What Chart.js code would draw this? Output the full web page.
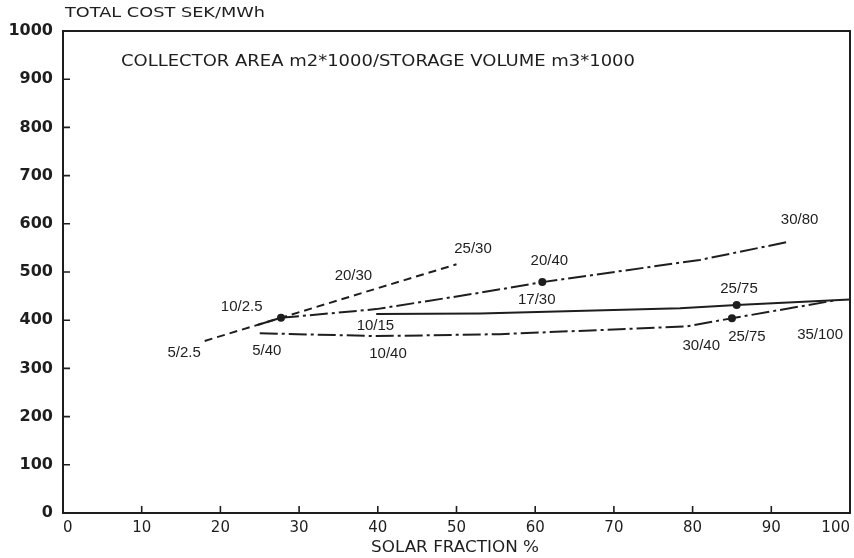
<!DOCTYPE html>
<html>
<head>
<meta charset="utf-8">
<script src="https://cdn.jsdelivr.net/npm/chart.js@4.4.1/dist/chart.umd.min.js"></script>
<style>
  html, body { margin: 0; padding: 0; background: #ffffff; }
  #wrap { width: 854px; height: 558px; }
</style>
</head>
<body>
<div id="wrap"><canvas id="c" width="854" height="558"></canvas></div>
<script>
// ---- data ----
const xTickValues = [0, 10, 20, 30, 40, 50, 60, 70, 80, 90, 100];
const yTickValues = [0, 100, 200, 300, 400, 500, 600, 700, 800, 900, 1000];

// dashed line 5/2.5 -> 10/2.5 -> 20/30 -> 25/30
const dashedX = [18.0, 27.7, 38.5, 50.0];
const dashedY = [357, 405, 459, 516];

// short solid lead-in to 10/2.5
const leadX = [24.7, 27.7];
const leadY = [390, 405];

// upper dash-dot line 10/2.5 -> 20/40 -> 30/80
const upperX = [27.7, 39.8, 53.0, 60.9, 80.9, 92.0];
const upperY = [405, 423, 457, 479, 525, 562];

// solid line 10/15 -> 17/30 -> 25/75 -> 35/100
const solidX = [39.8, 53.0, 78.4, 85.6, 100];
const solidY = [413, 414, 425, 431.5, 443];

// lower dash-dot line 5/40 -> 10/40 -> 30/40 -> 25/75 -> 35/100
const lowerX = [25.0, 39.8, 55.5, 79.2, 85.0, 97.0, 98.0];
const lowerY = [373, 367, 371, 387, 404, 438, 441];

// marked points
const dotX = [27.7, 60.9, 85.6, 85.0];
const dotY = [405, 479, 431.5, 404];

// point labels (text, x, y in data units)
const labelText = ["5/2.5", "10/2.5", "20/30", "25/30", "10/15", "5/40", "10/40",
                   "20/40", "17/30", "30/80", "25/75", "30/40", "25/75", "35/100"];
const labelX = [15.4, 22.7, 36.9, 52.1, 39.7, 25.9, 41.3, 61.8, 60.2, 93.6, 85.9, 81.1, 86.9, 96.2];
const labelY = [333, 427, 491, 547, 388, 337, 330, 523, 442, 608, 464, 347, 366, 369];

const yAxisTitle = "TOTAL COST SEK/MWh";
const xAxisTitle = "SOLAR FRACTION %";
const noteText = "COLLECTOR AREA m2*1000/STORAGE VOLUME m3*1000";

// ---- helpers ----
function pts(xs, ys) { return xs.map((x, i) => ({ x: x, y: ys[i] })); }
const INK = '#1e1e1e';

function lineSet(data, dash) {
  return {
    data: data, showLine: true, borderColor: INK, borderWidth: 2,
    borderDash: dash, pointRadius: 0, pointHoverRadius: 0, fill: false, tension: 0
  };
}

// draw text stretched horizontally to a given width, left edge at x
function drawFit(ctx, text, x, y, width) {
  const w = ctx.measureText(text).width;
  ctx.save();
  ctx.translate(x, y);
  ctx.scale(width / w, 1);
  ctx.textAlign = 'left';
  ctx.fillText(text, 0, 0);
  ctx.restore();
}

const decorPlugin = {
  id: 'decor',
  afterDatasetsDraw(chart) {
    const ctx = chart.ctx;
    const a = chart.chartArea;
    const xs = chart.scales.x, ys = chart.scales.y;
    ctx.save();
    // frame
    ctx.strokeStyle = INK;
    ctx.lineWidth = 2;
    ctx.strokeRect(a.left, a.top, a.right - a.left, a.bottom - a.top);
    // inward ticks
    ctx.lineWidth = 1.6;
    ctx.beginPath();
    xTickValues.forEach(v => {
      if (v === 0 || v === 100) return;
      const px = xs.getPixelForValue(v);
      ctx.moveTo(px, a.bottom);
      ctx.lineTo(px, a.bottom - 7);
    });
    yTickValues.forEach(v => {
      if (v === 0 || v === 1000) return;
      const py = ys.getPixelForValue(v);
      ctx.moveTo(a.left, py);
      ctx.lineTo(a.left + 7, py);
    });
    ctx.stroke();

    // point labels
    ctx.fillStyle = INK;
    ctx.font = '15px "Liberation Sans"';
    ctx.textAlign = 'center';
    ctx.textBaseline = 'middle';
    labelText.forEach((t, i) => {
      ctx.fillText(t, xs.getPixelForValue(labelX[i]), ys.getPixelForValue(labelY[i]));
    });

    // note
    ctx.font = '15px "DejaVu Sans"';
    drawFit(ctx, noteText, 121, 62, 514);

    // axis titles
    ctx.font = '14px "DejaVu Sans"';
    drawFit(ctx, yAxisTitle, 65, 13, 200);
    ctx.font = '15px "DejaVu Sans"';
    drawFit(ctx, xAxisTitle, 371, 548, 168);
    ctx.restore();
  }
};

new Chart(document.getElementById('c'), {
  type: 'scatter',
  data: {
    datasets: [
      lineSet(pts(dashedX, dashedY), [8, 5]),
      lineSet(pts(leadX, leadY), []),
      lineSet(pts(upperX, upperY), [18, 4, 3, 4]),
      lineSet(pts(solidX, solidY), []),
      lineSet(pts(lowerX, lowerY), [18, 4, 3, 4]),
      {
        data: pts(dotX, dotY), showLine: false, pointRadius: 4,
        pointBackgroundColor: INK, pointBorderColor: INK, pointBorderWidth: 0
      }
    ]
  },
  options: {
    responsive: false,
    animation: false,
    devicePixelRatio: 1,
    layout: { padding: { top: 31, right: 4, left: 0, bottom: 0 } },
    plugins: { legend: { display: false }, tooltip: { enabled: false }, title: { display: false } },
    scales: {
      x: {
        type: 'linear', min: 0, max: 100,
        afterFit(s) { s.height = 45; s.paddingLeft = 0; s.paddingRight = 0; },
        afterBuildTicks(s) { s.ticks = xTickValues.map(v => ({ value: v })); },
        grid: { display: false, drawTicks: false },
        border: { display: false },
        ticks: { color: INK, padding: 6, align: 'inner', font: { family: 'DejaVu Sans', size: 15 }, maxRotation: 0, autoSkip: false,
                 callback: v => String(v) }
      },
      y: {
        type: 'linear', min: 0, max: 1000,
        afterFit(s) { s.width = 63; s.paddingTop = 0; s.paddingBottom = 0; },
        afterBuildTicks(s) { s.ticks = yTickValues.map(v => ({ value: v })); },
        grid: { display: false, drawTicks: false },
        border: { display: false },
        ticks: { color: INK, padding: 10, font: { family: 'DejaVu Sans', size: 16, weight: 'bold' }, autoSkip: false,
                 callback: v => String(v) }
      }
    }
  },
  plugins: [decorPlugin]
});
</script>
</body>
</html>
